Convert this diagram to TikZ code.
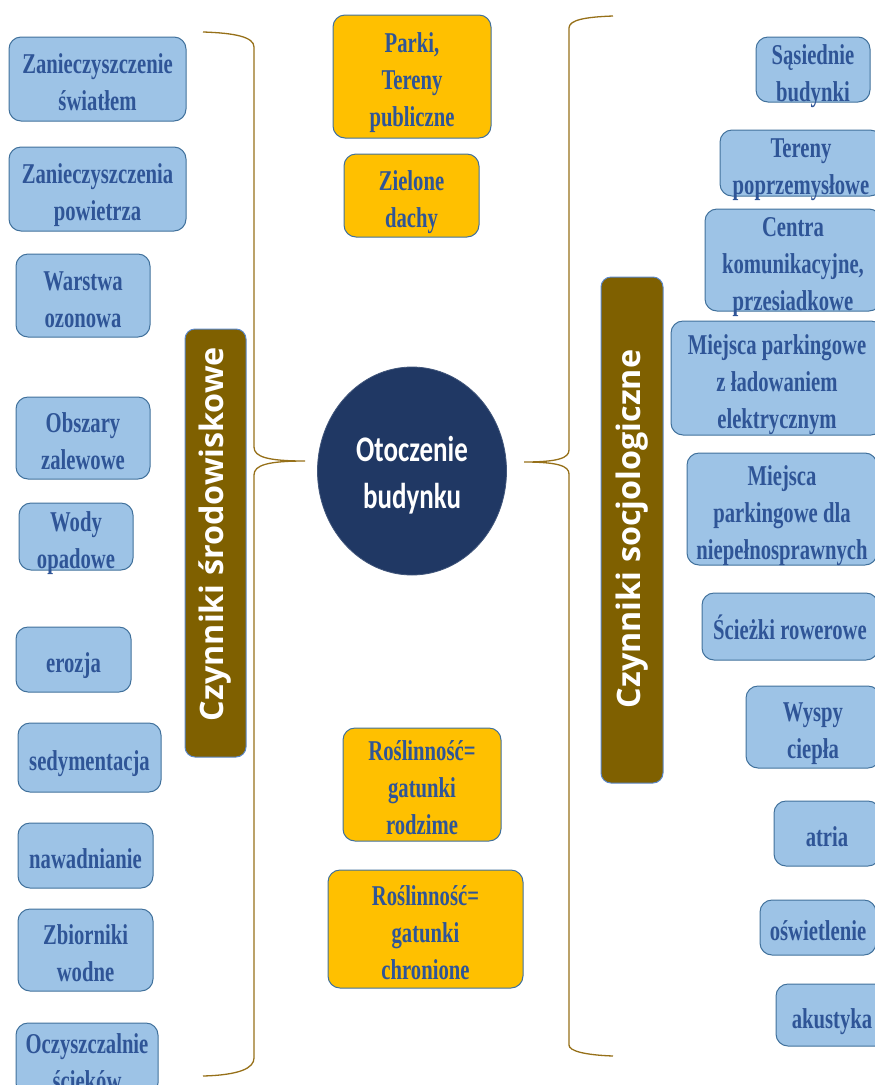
\documentclass[tikz,border=0pt]{standalone}
\usepackage{fontspec}
\usetikzlibrary{shapes.geometric}
\newfontfamily\boxfont{Liberation Serif}[FakeStretch=0.72]
\newfontfamily\hubfont{Carlito}[FakeStretch=0.75]
\newfontfamily\barfont{Open Sans}
\definecolor{boxblue}{RGB}{157,195,230}
\definecolor{boxedge}{RGB}{65,113,156}
\definecolor{boxtext}{RGB}{47,85,151}
\definecolor{amber}{RGB}{255,192,0}
\definecolor{olive}{RGB}{127,96,0}
\definecolor{baredge}{RGB}{91,135,200}
\definecolor{navy}{RGB}{32,56,100}
\definecolor{bracecol}{RGB}{150,112,25}
\tikzset{
  item/.style={draw=boxedge, line width=1pt, rounded corners=12pt, inner sep=0pt},
  bluebox/.style={item, fill=boxblue},
  orangebox/.style={item, fill=amber},
  itemtext/.style={inner sep=0pt, align=center, text=boxtext,
    font=\boxfont\bfseries\fontsize{28.7}{37}\selectfont},
  sidebar/.style={draw=baredge, line width=1pt, fill=olive, rounded corners=10pt,
    inner sep=0pt},
  bartext/.style={inner sep=0pt, rotate=90, text=white,
    font=\barfont\bfseries\fontsize{32.3}{36}\selectfont},
  hub/.style={ellipse, fill=navy, draw=navy!85!white, line width=0.8pt, inner sep=0pt},
  hubtext/.style={inner sep=0pt, align=center, text=white,
    font=\hubfont\bfseries\fontsize{36}{47}\selectfont},
  bracestyle/.style={draw=bracecol, line width=1.3pt}
}
% uniform line metrics, so every label sits the same way in its box
\newcommand\itemstrut{\rule[-6.2pt]{0pt}{31.8pt}}
% \putbox[style]{name}{centre}{width}{height}{text}
\newcommand\putbox[6][bluebox]{%
  \node[#1, minimum width=#4, minimum height=#5] (#2) at (#3) {};
  \node[itemtext] (#2-text) at ([yshift=-3.5pt]#2.center) {\itemstrut#6\itemstrut};}
\begin{document}
\begin{tikzpicture}[x=1pt, y=-1pt]
\useasboundingbox (0,0) rectangle (875,1085);
\clip (0,0) rectangle (875,1085);

% left column: environmental factors
\putbox{l1}{97.5,79}{177}{84}{Zanieczyszczenie\\światłem}
\putbox{l2}{97.5,189}{177}{84}{Zanieczyszczenia\\powietrza}
\putbox{l3}{83,295.5}{134}{83}{Warstwa\\ozonowa}
\putbox{l4}{83,438}{134}{82}{Obszary\\zalewowe}
\putbox{l5}{76,536.5}{114}{67}{Wody\\opadowe}
\putbox{l6}{73.5,659.5}{115}{65}{erozja}
\putbox{l7}{89.5,757.5}{143}{69}{sedymentacja}
\putbox{l8}{85.5,855.5}{135}{65}{nawadnianie}
\putbox{l9}{85.5,950}{135}{82}{Zbiorniki\\wodne}
\putbox{l10}{87,1059}{142}{72}{Oczyszczalnie\\ścieków}

% middle column: greenery
\putbox[orangebox]{m1}{412,76.5}{158}{123}{Parki,\\Tereny\\publiczne}
\putbox[orangebox]{m2}{411.5,195.5}{135}{83}{Zielone\\dachy}
\putbox[orangebox]{m3}{422,784.5}{158}{113}{Roślinność=\\gatunki\\rodzime}
\putbox[orangebox]{m4}{425.5,929}{195}{118}{Roślinność=\\gatunki\\chronione}

% right column: social factors
\putbox{r1}{813,69.5}{114}{65}{Sąsiednie\\budynki}
\putbox{r2}{801,163}{162}{66}{Tereny\\poprzemysłowe}
\putbox{r3}{793,260}{176}{102}{Centra\\komunikacyjne,\\przesiadkowe}
\putbox{r4}{777,378}{212}{114}{Miejsca parkingowe\\z ładowaniem\\elektrycznym}
\putbox{r5}{782,509}{190}{112}{Miejsca\\parkingowe dla\\niepełnosprawnych}
\putbox{r6}{790,626.5}{176}{67}{Ścieżki rowerowe}
\putbox{r7}{813,727}{134}{82}{Wyspy\\ciepła}
\putbox{r8}{827,833.5}{106}{65}{atria}
\putbox{r9}{818,927.5}{116}{55}{oświetlenie}
\putbox{r10}{832,1015}{112}{62}{akustyka}

% category bars
\node[sidebar, minimum width=61, minimum height=428] (envbar) at (215.5,543) {};
\node[bartext] (envbar-text) at ([yshift=9pt]envbar.center) {Czynniki środowiskowe};
\node[sidebar, minimum width=62, minimum height=506] (socbar) at (632,530) {};
\node[bartext] (socbar-text) at ([yshift=1pt]socbar.center) {Czynniki socjologiczne};

% central hub
\node[hub, minimum width=189, minimum height=208] (hub) at (412,471) {};
\node[hubtext] (hub-text) at ([yshift=-4pt]hub.center) {Otoczenie\\budynku};

% braces
\coordinate (lb-top) at (203,32);
\coordinate (lb-tip) at (305,461);
\coordinate (lb-bot) at (203,1076);
\coordinate (rb-top) at (613,16);
\coordinate (rb-tip) at (524,462);
\coordinate (rb-bot) at (613,1056);

\draw[bracestyle] (lb-top) .. controls (235,33) and (254,37) .. (254,47)
  -- (254,447) .. controls (254,457) and (268,461) .. (lb-tip)
  .. controls (268,461) and (254,465) .. (254,475)
  -- (254,1058) .. controls (254,1068) and (240,1075) .. (lb-bot);
\draw[bracestyle] (rb-top) .. controls (585,17) and (569,20) .. (569,28)
  -- (569,450) .. controls (569,458) and (558,462) .. (rb-tip)
  .. controls (558,462) and (569,466) .. (569,474)
  -- (569,1045) .. controls (569,1051) and (585,1055) .. (rb-bot);
\end{tikzpicture}
\end{document}
